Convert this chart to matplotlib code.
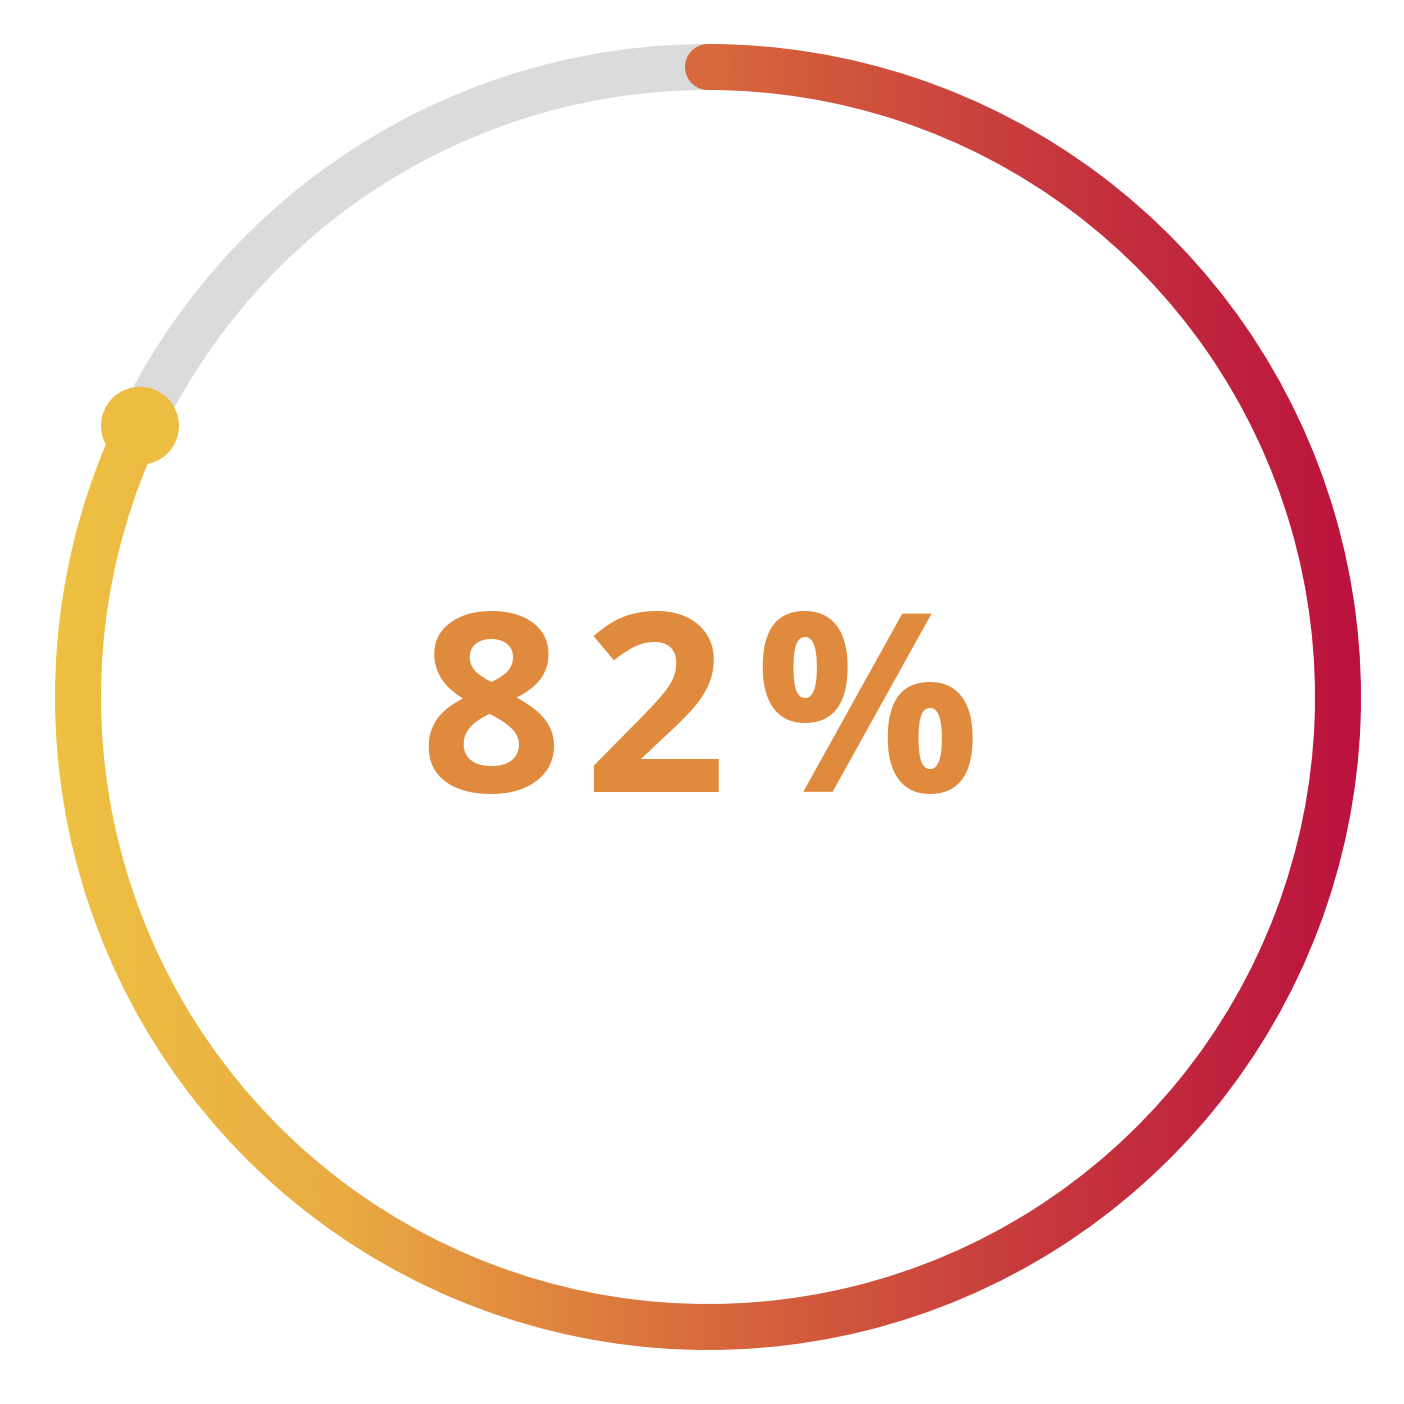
import numpy as np
import matplotlib
matplotlib.use("Agg")
import matplotlib.pyplot as plt
from matplotlib.patches import Wedge, Circle
from matplotlib.colors import LinearSegmentedColormap

# data
value = 82          # percent
label_chars = ["8", "2", "%"]

# look
track_color = "#DBDBDB"
text_color = "#E08A3D"
grad_stops = [(0.0, "#EEC143"), (0.22, "#E9AB42"), (0.5, "#D8693C"),
              (0.75, "#C7393E"), (1.0, "#BB123D")]
cmap = LinearSegmentedColormap.from_list("ring", grad_stops)

W = 1404
cx, cy = 708, W - 697
r = 630
width = 46

fig = plt.figure(figsize=(14.04, 14.04), dpi=100)
ax = fig.add_axes([0, 0, 1, 1])
ax.set_xlim(0, W)
ax.set_ylim(0, W)
ax.set_aspect("equal")
ax.axis("off")

# progress goes clockwise from 12 o'clock
end_ang = 90 - value / 100 * 360
start_ang = 90

# grey remainder
ax.add_patch(Wedge((cx, cy), r + width / 2, start_ang, end_ang % 360,
                   width=width, color=track_color, lw=0))

# gradient part: horizontal gradient image clipped to wedge
x0, x1 = cx - r - width / 2, cx + r + width / 2
grad = np.linspace(0, 1, 512).reshape(1, -1)
img = ax.imshow(grad, cmap=cmap, extent=[x0, x1, cy - r - width, cy + r + width],
                aspect="auto", interpolation="bilinear", zorder=2)
clip = Wedge((cx, cy), r + width / 2, end_ang % 360, start_ang + 360,
             width=width, transform=ax.transData, facecolor="none", edgecolor="none")
ax.add_patch(clip)
img.set_clip_path(clip)

def col_at(x):
    return cmap((x - x0) / (x1 - x0))

# round cap at start
sx, sy = cx, cy + r
ax.add_patch(Circle((sx, sy), width / 2, color=col_at(sx), lw=0, zorder=3))

# knob at end
ex = cx + r * np.cos(np.radians(end_ang))
ey = cy + r * np.sin(np.radians(end_ang))
ax.add_patch(Circle((ex + 2, ey + 3), 39, color="#EDBD42", lw=0, zorder=4))

# centre label, spaced out
xs = [491, 655, 867]
for ch, x in zip(label_chars, xs):
    ax.text(x, W - 697, ch, ha="center", va="center_baseline", fontsize=180,
            fontweight="bold", family="Open Sans", color=text_color, zorder=5)

fig.savefig("out.png", dpi=100, facecolor="white")
